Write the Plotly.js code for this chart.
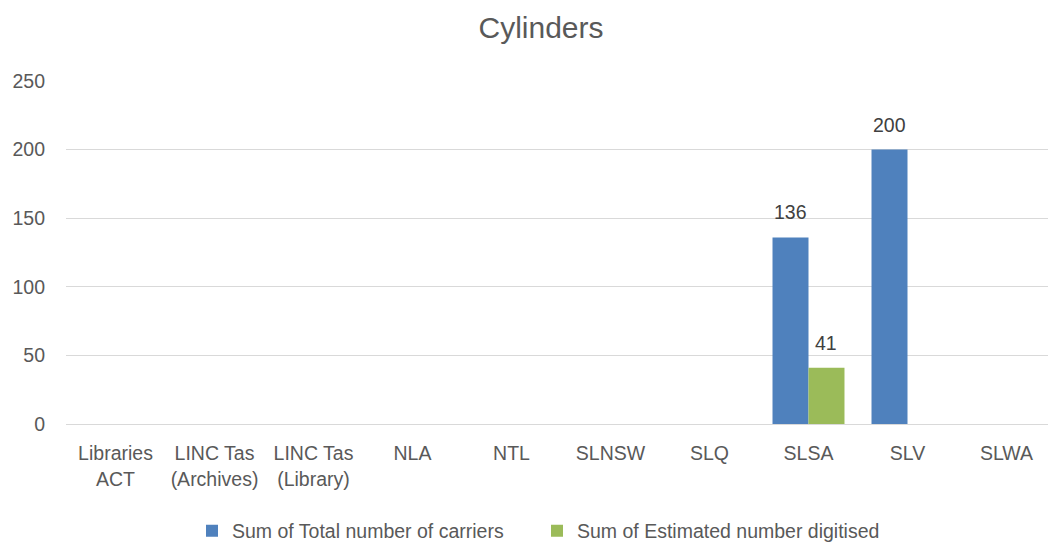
<!DOCTYPE html>
<html>
<head>
<meta charset="utf-8">
<script src="https://cdn.plot.ly/plotly-3.0.1.min.js"></script>
<style>
html,body{margin:0;padding:0;overflow:hidden;background:#fff;}
#chart{width:1058px;height:544px;}
</style>
</head>
<body>
<div id="chart"></div>
<script>
var categories = ["Libraries<br>ACT", "LINC Tas<br>(Archives)", "LINC Tas<br>(Library)", "NLA", "NTL", "SLNSW", "SLQ", "SLSA", "SLV", "SLWA"];
var totalCarriers = [null, null, null, null, null, null, null, 136, 200, null];
var estDigitised = [null, null, null, null, null, null, null, 41, null, null];
var seriesNames = ["Sum of Total number of carriers", "Sum of Estimated number digitised"];
var seriesColors = ["#4F81BD", "#9BBB59"];
var yTicks = [0, 50, 100, 150, 200, 250];

var FONT = "'Liberation Sans', Arial, sans-serif";
var FS = 19.5;
var W = 1058, H = 544, ML = 66, MR = 2, MT = 81, MB = 120;
var BARGAP = 0.273;

var traces = [
  {type: "bar", name: seriesNames[0], x: categories, y: totalCarriers,
   marker: {color: seriesColors[0]}, hoverinfo: "x+y"},
  {type: "bar", name: seriesNames[1], x: categories, y: estDigitised,
   marker: {color: seriesColors[1]}, hoverinfo: "x+y"}
];

// data labels as annotations, offset to each bar of the group
var plotW = W - ML - MR;
var step = plotW / categories.length;
var barW = step * (1 - BARGAP) / 2;
var annotations = [];
[totalCarriers, estDigitised].forEach(function (vals, si) {
  vals.forEach(function (v, i) {
    if (v === null) return;
    annotations.push({
      x: categories[i], y: v, xref: "x", yref: "y",
      text: String(v), showarrow: false,
      xanchor: "center", yanchor: "bottom",
      xshift: (si === 0 ? -1 : 1) * barW / 2, yshift: 12,
      font: {family: FONT, size: FS, color: "#404040"}
    });
  });
});

var layout = {
  width: W, height: H,
  margin: {l: ML, r: MR, t: MT, b: MB, pad: 0},
  paper_bgcolor: "#fff", plot_bgcolor: "#fff",
  font: {family: FONT, size: FS, color: "#595959"},
  title: {text: "Cylinders", font: {family: FONT, size: 30, color: "#595959"},
          xref: "container", x: 541 / W, xanchor: "center",
          yref: "container", y: 1 - 27 / H, yanchor: "middle"},
  barmode: "group", bargap: BARGAP, bargroupgap: 0,
  showlegend: true,
  legend: {orientation: "h", xref: "container", yref: "container",
           x: 192 / W, xanchor: "left", y: 1 - 531 / H, yanchor: "middle",
           font: {family: FONT, size: FS, color: "#595959"},
           entrywidth: 300, itemclick: false, itemdoubleclick: false,
           traceorder: "normal"},
  xaxis: {type: "category", showgrid: false, zeroline: false,
          showline: true, linecolor: "#D9D9D9", linewidth: 1,
          ticks: "", tickangle: 0, ticklabelstandoff: 12, automargin: false,
          tickfont: {family: FONT, size: FS, color: "#595959"}},
  yaxis: {range: [0, 250], tickvals: yTicks, ticktext: yTicks.map(String),
          showgrid: true, gridcolor: "#D9D9D9", gridwidth: 1,
          zeroline: false, showline: false, ticks: "",
          ticklabelstandoff: 20, automargin: false,
          tickfont: {family: FONT, size: FS, color: "#595959"}},
  annotations: annotations
};

Plotly.newPlot("chart", traces, layout, {displayModeBar: false, staticPlot: true});
</script>
</body>
</html>
